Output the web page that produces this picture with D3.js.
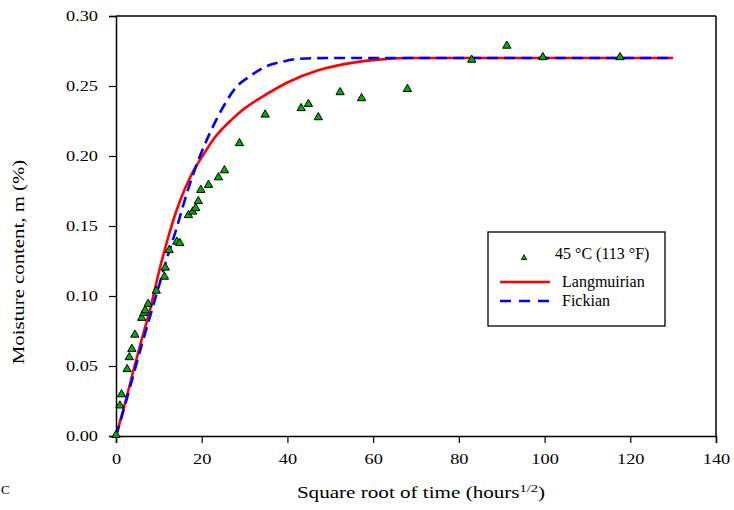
<!DOCTYPE html>
<html><head><meta charset="utf-8">
<script src="https://cdn.jsdelivr.net/npm/d3@7"></script>
<style>
body{margin:0;background:#fff;}
svg{display:block;font-family:"Liberation Serif","Times New Roman",serif;}
</style></head>
<body><svg id="c" width="734" height="510"></svg>
<script>
// Measured data: 45 °C (113 °F)
const obsX = [0,0.9,1.3,2.6,3.1,3.7,4.4,6.0,6.5,6.8,7.5,9.4,11.3,11.5,12.4,14.2,14.9,16.9,17.9,18.6,19.2,19.8,21.6,23.9,25.3,28.8,34.8,43.2,44.9,47.2,52.3,57.3,68.0,83.0,91.2,99.6,117.6];
const obsY = [0,0.021,0.029,0.047,0.0555,0.0614,0.0716,0.0836,0.087,0.089,0.0936,0.103,0.113,0.1195,0.132,0.138,0.137,0.157,0.1595,0.162,0.167,0.175,0.1786,0.184,0.189,0.2084,0.2288,0.2334,0.2364,0.2269,0.2448,0.2405,0.2471,0.268,0.278,0.2698,0.2698];
// Langmuirian model curve
const langX = [0,2,4,6,8,10,12,14,16,18,20,23,27,30,34,40,47,55,62,68.5,130];
const langY = [0,0.022,0.046,0.069,0.091,0.117,0.140,0.160,0.176,0.189,0.199,0.213,0.226,0.234,0.242,0.2525,0.261,0.2665,0.269,0.27,0.27];
// Fickian model curve
const fickX = [0,2,4,6,8,10,12,14,16,18,20,22,25,28,31,35,39,43,50,130];
const fickY = [0,0.021,0.043,0.065,0.086,0.107,0.128,0.147,0.168,0.187,0.203,0.217,0.235,0.249,0.2565,0.264,0.2675,0.2695,0.27,0.27];
const xTicks = [0,20,40,60,80,100,120,140];
const yTicks = [0,0.05,0.10,0.15,0.20,0.25,0.30];
const legendLabels = ["45 °C (113 °F)","Langmuirian","Fickian"];

const svg = d3.select("#c");
const x = d3.scaleLinear().domain([0,140]).range([116,716]);
const y = d3.scaleLinear().domain([0,0.30]).range([436,16]);

// frame (top & right)
svg.append("line").attr("x1",116).attr("x2",716).attr("y1",16).attr("y2",16).attr("stroke","#000").attr("stroke-width",1.5);
svg.append("line").attr("x1",716).attr("x2",716).attr("y1",16).attr("y2",436).attr("stroke","#000").attr("stroke-width",1.5);

const ya = svg.append("g").attr("transform","translate(116,0)")
  .call(d3.axisLeft(y).tickValues(yTicks).tickFormat(d3.format(".2f")).tickSize(7).tickPadding(11));
const xa = svg.append("g").attr("transform","translate(0,436)")
  .call(d3.axisBottom(x).tickValues(xTicks).tickSize(7).tickPadding(10));
[ya,xa].forEach(g=>{
  g.select(".domain").attr("stroke","#000").attr("stroke-width",1.5);
  g.selectAll(".tick line").attr("stroke","#000").attr("stroke-width",1.2);
  g.selectAll(".tick text").attr("font-family","Liberation Serif").attr("font-size",15).attr("fill","#000");
});
ya.selectAll(".tick text").attr("transform","scale(1.22,1)").attr("x",-18/1.22);
xa.selectAll(".tick text").attr("transform","scale(1.22,1)");

// curves
const line = d3.line().x(d=>x(d[0])).y(d=>y(d[1])).curve(d3.curveMonotoneX);
svg.append("path").datum(langX.map((v,i)=>[v,langY[i]])).attr("d",line)
  .attr("fill","none").attr("stroke","#ff0000").attr("stroke-width",2.6);
svg.append("path").datum(fickX.map((v,i)=>[v,fickY[i]])).attr("d",line)
  .attr("fill","none").attr("stroke","#0000ff").attr("stroke-width",2.6).attr("stroke-dasharray","11,6");

// observations
const tri = d3.symbol().type(d3.symbolTriangle).size(30);
svg.append("g").selectAll("path").data(obsX.map((v,i)=>[v,obsY[i]])).join("path")
  .attr("d",tri).attr("transform",d=>`translate(${x(d[0])},${y(d[1])-1})`)
  .attr("fill","#00b000").attr("stroke","#000").attr("stroke-width",1);

// axis titles
svg.append("text").attr("transform","translate(421,498) scale(1.32,1)").attr("text-anchor","middle")
  .attr("font-size",16).attr("fill","#000")
  .html('Square root of time (hours<tspan font-size="11" dy="-6">1/2</tspan><tspan dy="6">)</tspan>');
svg.append("text").attr("transform","translate(24,262) rotate(-90) scale(1.3,1)").attr("text-anchor","middle")
  .attr("font-size",16).attr("fill","#000").text("Moisture content, m (%)");

// legend
const lg = svg.append("g");
lg.append("rect").attr("x",488).attr("y",232).attr("width",177).attr("height",94)
  .attr("fill","#fff").attr("stroke","#000").attr("stroke-width",1.3);
lg.append("path").attr("d",d3.symbol().type(d3.symbolTriangle).size(14)).attr("transform","translate(524,258)")
  .attr("fill","#00b000").attr("stroke","#000").attr("stroke-width",0.8);
lg.append("line").attr("x1",500).attr("x2",550).attr("y1",282).attr("y2",282).attr("stroke","#ff0000").attr("stroke-width",2.6);
lg.append("line").attr("x1",500).attr("x2",550).attr("y1",301).attr("y2",301).attr("stroke","#0000ff").attr("stroke-width",2.6).attr("stroke-dasharray","11,8");
lg.selectAll("text.l").data(legendLabels).join("text").attr("class","l")
  .attr("x",(d,i)=>i===0?555:562).attr("y",(d,i)=>[259,287,306][i])
  .attr("font-size",16).attr("fill","#000").text(d=>d);

// stray glyph at lower-left edge
svg.append("text").attr("x",1).attr("y",494).attr("font-size",13).attr("fill","#000").text("C");
</script></body></html>
